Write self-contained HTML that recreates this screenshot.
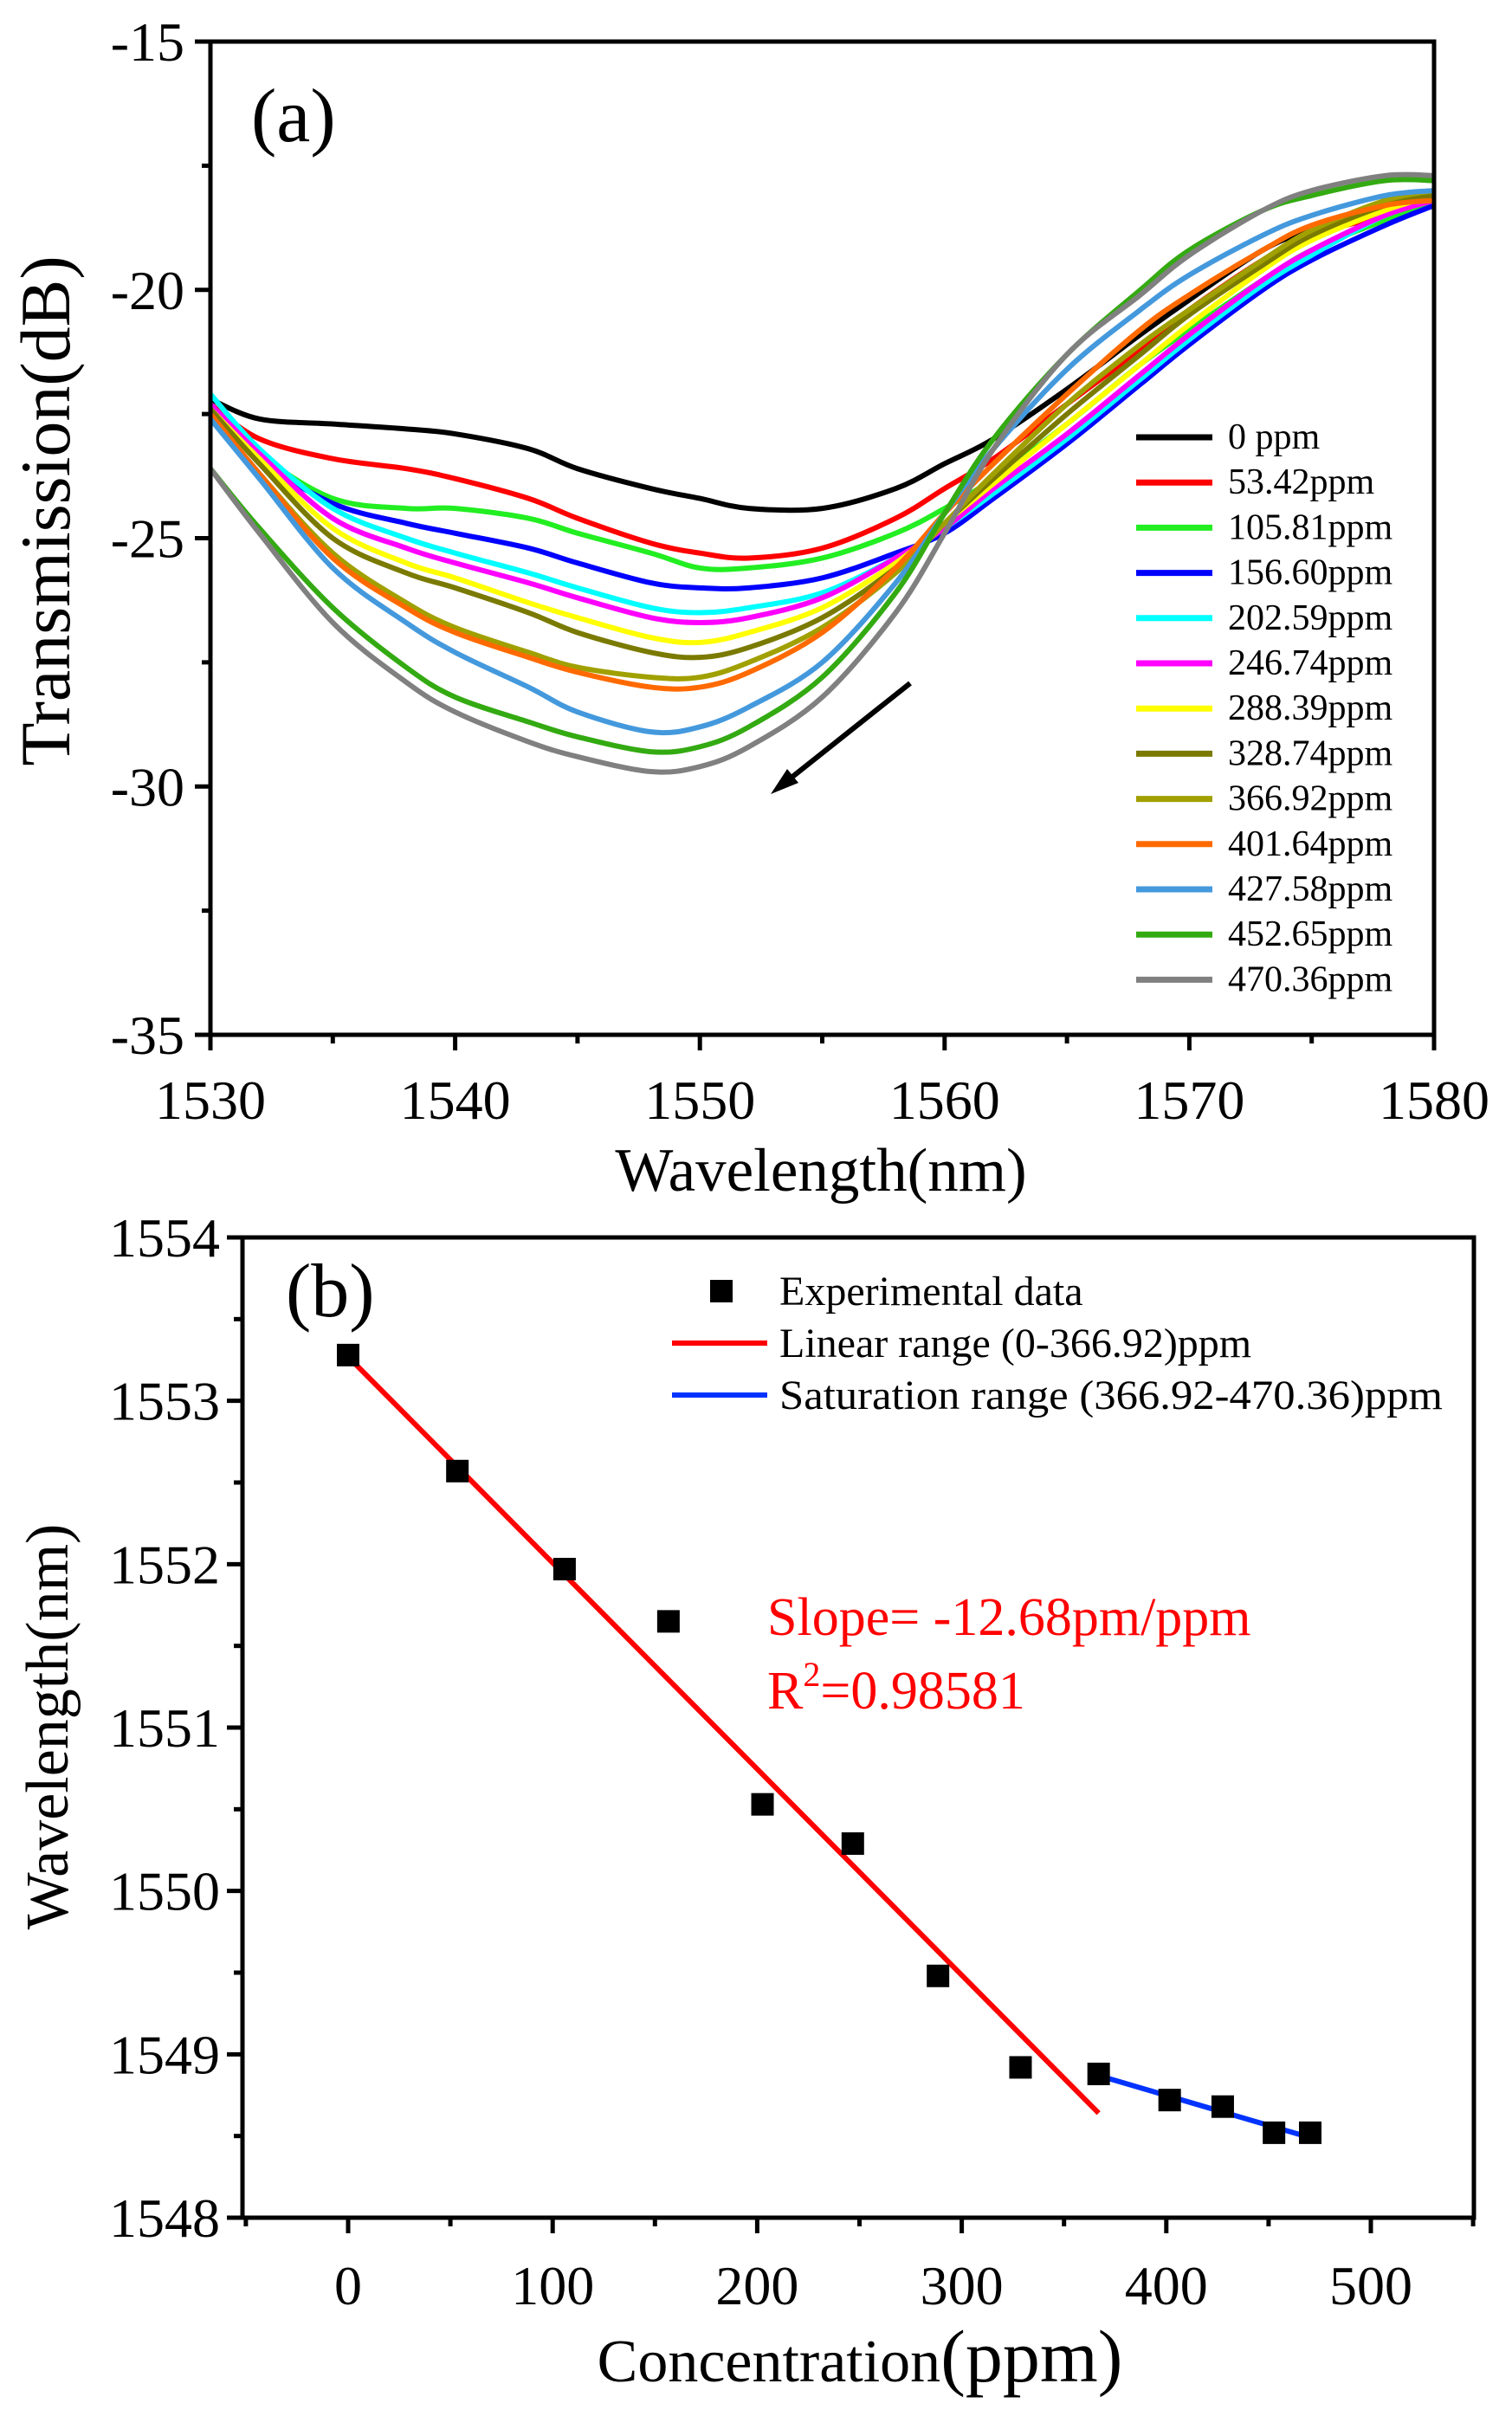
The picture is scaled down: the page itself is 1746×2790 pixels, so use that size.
<!DOCTYPE html>
<html><head><meta charset="utf-8"><style>
html,body{margin:0;padding:0;background:#fff}
svg{display:block;font-family:"Liberation Serif",serif}
</style></head><body>
<svg id="fig" width="1746" height="2790" viewBox="0 0 1746 2790" xmlns="http://www.w3.org/2000/svg">
<g id="pa"></g>
<g id="pb"></g>
</svg>
<script>
// ---- Panel (a) data ----
const wlGrid = [1530,1532,1535,1538,1540,1543,1545,1548,1550,1552,1555,1558,1560,1562,1565,1568,1570,1573,1575,1578,1580];
const seriesNames = ["0 ppm","53.42ppm","105.81ppm","156.60ppm","202.59ppm","246.74ppm","288.39ppm","328.74ppm","366.92ppm","401.64ppm","427.58ppm","452.65ppm","470.36ppm"];
const seriesColors = ["#000000","#ff0000","#22ee22","#0000ff","#00ffff","#ff00ff","#ffff00","#7a7a00","#a0a000","#ff6a00","#4499dd","#33aa11","#808080"];
const s0 = [-22.2,-22.6,-22.7,-22.8,-22.9,-23.2,-23.6,-24.0,-24.2,-24.4,-24.4,-24.0,-23.5,-23.0,-22.0,-20.9,-20.2,-19.2,-18.8,-18.4,-18.2];
const s1 = [-22.3,-23.0,-23.4,-23.6,-23.8,-24.2,-24.6,-25.1,-25.3,-25.4,-25.2,-24.6,-24.0,-23.4,-22.3,-21.2,-20.4,-19.4,-18.9,-18.5,-18.2];
const s2 = [-22.3,-23.3,-24.2,-24.4,-24.4,-24.6,-24.9,-25.3,-25.6,-25.6,-25.4,-24.9,-24.4,-23.8,-22.7,-21.5,-20.8,-19.8,-19.2,-18.6,-18.3];
const s3 = [-22.3,-23.4,-24.3,-24.7,-24.9,-25.2,-25.5,-25.9,-26.0,-26.0,-25.8,-25.3,-24.9,-24.2,-23.1,-21.9,-21.1,-20.0,-19.4,-18.7,-18.3];
const s4 = [-22.1,-23.2,-24.4,-25.0,-25.3,-25.7,-26.0,-26.4,-26.5,-26.4,-26.1,-25.4,-24.8,-24.1,-23.0,-21.8,-21.0,-19.9,-19.3,-18.5,-18.2];
const s5 = [-22.3,-23.3,-24.6,-25.2,-25.5,-25.9,-26.2,-26.6,-26.7,-26.6,-26.2,-25.4,-24.8,-24.0,-22.9,-21.7,-20.9,-19.8,-19.2,-18.5,-18.2];
const s6 = [-22.4,-23.4,-24.8,-25.5,-25.8,-26.3,-26.6,-27.0,-27.1,-26.9,-26.4,-25.5,-24.7,-23.9,-22.7,-21.5,-20.7,-19.6,-19.0,-18.4,-18.1];
const s7 = [-22.4,-23.5,-25.0,-25.7,-26.0,-26.5,-26.9,-27.3,-27.4,-27.2,-26.6,-25.6,-24.7,-23.8,-22.5,-21.3,-20.5,-19.5,-18.9,-18.3,-18.1];
const s8 = [-22.5,-23.7,-25.3,-26.3,-26.8,-27.3,-27.6,-27.8,-27.8,-27.5,-26.8,-25.7,-24.7,-23.7,-22.3,-21.1,-20.4,-19.4,-18.8,-18.2,-18.0];
const s9 = [-22.5,-23.7,-25.4,-26.4,-26.9,-27.4,-27.7,-28.0,-28.0,-27.7,-26.9,-25.6,-24.5,-23.5,-22.1,-20.8,-20.1,-19.2,-18.7,-18.3,-18.2];
const s10 = [-22.6,-23.8,-25.6,-26.7,-27.3,-28.0,-28.5,-28.9,-28.8,-28.4,-27.5,-25.9,-24.5,-23.2,-21.6,-20.4,-19.7,-18.9,-18.5,-18.1,-18.0];
const s11 = [-23.6,-24.8,-26.4,-27.6,-28.2,-28.7,-29.0,-29.3,-29.2,-28.8,-27.8,-26.1,-24.5,-23.0,-21.3,-20.0,-19.2,-18.4,-18.1,-17.8,-17.8];
const s12 = [-23.6,-24.9,-26.7,-27.9,-28.5,-29.1,-29.4,-29.7,-29.6,-29.2,-28.2,-26.5,-24.9,-23.2,-21.3,-20.1,-19.3,-18.4,-18.0,-17.7,-17.7];
const allSeries = [s0,s1,s2,s3,s4,s5,s6,s7,s8,s9,s10,s11,s12];
const aXTicks = [1530,1540,1550,1560,1570,1580];
const aYTicks = [-15,-20,-25,-30,-35];

// ---- Panel (b) data ----
const conc = [0,53.42,105.81,156.60,202.59,246.74,288.39,328.74,366.92,401.64,427.58,452.65,470.36];
const peakWl = [1553.28,1552.57,1551.97,1551.65,1550.53,1550.29,1549.48,1548.92,1548.88,1548.72,1548.68,1548.52,1548.52];
const linFitX = [0,366.92];
const linFitY = [1553.27,1548.64];
const satFitX = [366.92,470.36];
const satFitY = [1548.87,1548.49];
const bXTicks = [0,100,200,300,400,500];
const bYTicks = [1548,1549,1550,1551,1552,1553,1554];

const NS="http://www.w3.org/2000/svg";
function mk(parent,tag,attrs,text){const e=document.createElementNS(NS,tag);for(const k in attrs)e.setAttribute(k,attrs[k]);if(text!==undefined)e.textContent=text;parent.appendChild(e);return e;}
function smooth(pts){let d="M"+pts[0][0]+","+pts[0][1];for(let i=0;i<pts.length-1;i++){const p0=pts[Math.max(i-1,0)],p1=pts[i],p2=pts[i+1],p3=pts[Math.min(i+2,pts.length-1)];const c1x=p1[0]+(p2[0]-p0[0])/6,c1y=p1[1]+(p2[1]-p0[1])/6,c2x=p2[0]-(p3[0]-p1[0])/6,c2y=p2[1]-(p3[1]-p1[1])/6;d+=" C"+c1x+","+c1y+" "+c2x+","+c2y+" "+p2[0]+","+p2[1];}return d;}

// ===== Panel a =====
const pa=document.getElementById('pa');
const aL=243,aR=1656,aT=48,aB=1195;
const ax=v=>aL+(v-1530)/50*(aR-aL);
const ay=v=>aT+(-15-v)/20*(aB-aT);
allSeries.forEach((s,i)=>{
  const p=mk(pa,'path',{d:smooth(wlGrid.map((w,j)=>[ax(w),ay(s[j])])),fill:'none',stroke:seriesColors[i],'stroke-width':6,'stroke-linejoin':'round'});
  
  
});
let fr=mk(pa,'rect',{x:aL,y:aT,width:aR-aL,height:aB-aT,fill:'none',stroke:'#000','stroke-width':5});


aYTicks.forEach(v=>{
  mk(pa,'line',{x1:aL-18,x2:aL,y1:ay(v),y2:ay(v),stroke:'#000','stroke-width':5});
  const t=mk(pa,'text',{x:213,y:ay(v)+22,'font-size':64,'text-anchor':'end'},String(v));
  
  
});
for(let v=-17.5;v>-35;v-=5) mk(pa,'line',{x1:aL-10,x2:aL,y1:ay(v),y2:ay(v),stroke:'#000','stroke-width':5});
aXTicks.forEach(v=>{
  mk(pa,'line',{x1:ax(v),x2:ax(v),y1:aB,y2:aB+18,stroke:'#000','stroke-width':5});
  const t=mk(pa,'text',{x:ax(v),y:1292,'font-size':64,'text-anchor':'middle'},String(v));
  
  
});
for(let v=1535;v<1580;v+=10) mk(pa,'line',{x1:ax(v),x2:ax(v),y1:aB,y2:aB+10,stroke:'#000','stroke-width':5});
let t;
t=mk(pa,'text',{x:0,y:0,'font-size':82,'text-anchor':'middle',transform:'translate(80,590) rotate(-90)'},'Transmission(dB)');


t=mk(pa,'text',{x:948,y:1375,'font-size':71,'text-anchor':'middle'},'Wavelength(nm)');


t=mk(pa,'text',{x:290,y:163,'font-size':88},'(a)');


let ar=mk(pa,'line',{x1:1051,y1:789,x2:905,y2:905,stroke:'#000','stroke-width':6});


mk(pa,'polygon',{points:'890,917 909,888 922,904',fill:'#000'});
seriesNames.forEach((n,i)=>{
  const y=505+i*52.2;
  const g=mk(pa,'g',{});
  
  
  mk(g,'line',{x1:1312,x2:1400,y1:y,y2:y,stroke:seriesColors[i],'stroke-width':7});
  mk(g,'text',{x:1418,y:y+13,'font-size':42},n);
});

// ===== Panel b =====
const pb=document.getElementById('pb');
const bL=280,bR=1702,bT=1429,bB=2561;
const bx=v=>402+v/500*(1583-402);
const by=v=>bT+(1554-v)/6*(bB-bT);
t=mk(pb,'path',{d:'M'+bx(linFitX[0])+','+by(linFitY[0])+' L'+bx(linFitX[1])+','+by(linFitY[1]),stroke:'#ff0000','stroke-width':6});


t=mk(pb,'path',{d:'M'+bx(satFitX[0])+','+by(satFitY[0])+' L'+bx(satFitX[1])+','+by(satFitY[1]),stroke:'#0033ff','stroke-width':6});


conc.forEach((c,i)=>{
  const r=mk(pb,'rect',{x:bx(c)-13,y:by(peakWl[i])-13,width:26,height:26,fill:'#000'});
  
  
});
fr=mk(pb,'rect',{x:bL,y:bT,width:bR-bL,height:bB-bT,fill:'none',stroke:'#000','stroke-width':5});


bYTicks.forEach(v=>{
  mk(pb,'line',{x1:bL-18,x2:bL,y1:by(v),y2:by(v),stroke:'#000','stroke-width':5});
  const tt=mk(pb,'text',{x:254,y:by(v)+22,'font-size':64,'text-anchor':'end'},String(v));
  
  
});
for(let v=1548.5;v<1554;v+=1) mk(pb,'line',{x1:bL-10,x2:bL,y1:by(v),y2:by(v),stroke:'#000','stroke-width':5});
bXTicks.forEach(v=>{
  mk(pb,'line',{x1:bx(v),x2:bx(v),y1:bB,y2:bB+18,stroke:'#000','stroke-width':5});
  const tt=mk(pb,'text',{x:bx(v),y:2661,'font-size':64,'text-anchor':'middle'},String(v));
  
  
});
for(let v=-50;v<=550;v+=100) mk(pb,'line',{x1:bx(v),x2:bx(v),y1:bB,y2:bB+10,stroke:'#000','stroke-width':5});
t=mk(pb,'text',{x:0,y:0,'font-size':70,'text-anchor':'middle',transform:'translate(78,1994) rotate(-90)'},'Wavelength(nm)');


t=mk(pb,'text',{x:993,y:2750,'font-size':70,'text-anchor':'middle'});


mk(t,'tspan',{},'Concentration');
mk(t,'tspan',{'font-size':86},'(ppm)');
t=mk(pb,'text',{x:330,y:1520,'font-size':88},'(b)');


let g=mk(pb,'g',{});


mk(g,'rect',{x:820,y:1478,width:26,height:26,fill:'#000'});
mk(g,'text',{x:900,y:1507,'font-size':48},'Experimental data');
g=mk(pb,'g',{});


mk(g,'line',{x1:776,x2:886,y1:1551,y2:1551,stroke:'#ff0000','stroke-width':6});
mk(g,'text',{x:900,y:1567,'font-size':48},'Linear range (0-366.92)ppm');
g=mk(pb,'g',{});


mk(g,'line',{x1:776,x2:886,y1:1611,y2:1611,stroke:'#0033ff','stroke-width':6});
mk(g,'text',{x:900,y:1627,'font-size':48,textLength:766,lengthAdjust:'spacingAndGlyphs'},'Saturation range (366.92-470.36)ppm');
t=mk(pb,'text',{x:886,y:1888,'font-size':62,fill:'#ff0000'},'Slope= -12.68pm/ppm');


t=mk(pb,'text',{x:886,y:1973,'font-size':62,fill:'#ff0000'});


mk(t,'tspan',{},'R');
mk(t,'tspan',{'font-size':40,dy:-26},'2');
mk(t,'tspan',{dy:26},'=0.98581');
</script>
</body></html>
